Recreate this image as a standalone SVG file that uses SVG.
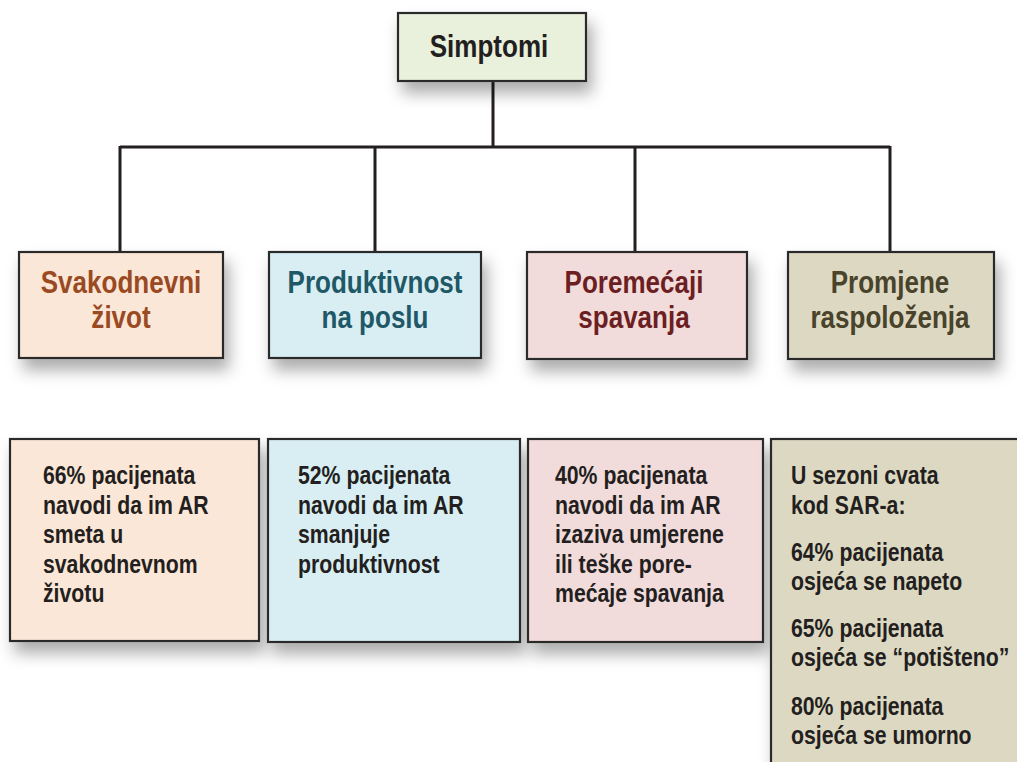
<svg xmlns="http://www.w3.org/2000/svg" width="1017" height="762" viewBox="0 0 1017 762">
<defs>
<filter id="sh" x="-20%" y="-20%" width="150%" height="160%">
<feDropShadow dx="5" dy="11" stdDeviation="8" flood-color="#000" flood-opacity="0.33"/>
</filter>
<style>
.box{stroke:#2b2b2b;stroke-width:2.2;filter:url(#sh)}
.hd{font-family:"Liberation Sans",Arial,sans-serif;font-weight:bold;font-size:31px;text-anchor:middle}
.bd{font-family:"Liberation Sans",Arial,sans-serif;font-weight:bold;font-size:25px;fill:#231f20}
.ln{stroke:#231f20;stroke-width:3;fill:none}
</style>
</defs>
<rect width="1017" height="762" fill="#ffffff"/>
<g id="connectors">
<path class="ln" d="M493 81 V147 M120 147 H890 M120 146 V252 M375 147 V252 M635 147 V252 M890 146 V252"/>
</g>
<g id="simptomi">
<rect class="box" x="398" y="13" width="188" height="68" fill="#e9f0dc"/>
<text class="hd" transform="translate(489 57) scale(0.84 1)" fill="#231f20">Simptomi</text>
</g>
<g id="svakodnevni">
<rect class="box" x="19" y="252" width="204" height="106" fill="#fbe7d7"/>
<text class="hd" transform="translate(121 293) scale(0.84 1)" fill="#9a4a22">Svakodnevni</text>
<text class="hd" transform="translate(121 328) scale(0.84 1)" fill="#9a4a22">život</text>
</g>
<g id="produktivnost">
<rect class="box" x="269" y="252" width="212" height="106" fill="#d9eef3"/>
<text class="hd" transform="translate(375 293) scale(0.84 1)" fill="#1f5866">Produktivnost</text>
<text class="hd" transform="translate(375 328) scale(0.84 1)" fill="#1f5866">na poslu</text>
</g>
<g id="poremecaji">
<rect class="box" x="527" y="252" width="220" height="107" fill="#f2dbdb"/>
<text class="hd" transform="translate(634 293) scale(0.84 1)" fill="#6c1f22">Poremećaji</text>
<text class="hd" transform="translate(634 328) scale(0.84 1)" fill="#6c1f22">spavanja</text>
</g>
<g id="promjene">
<rect class="box" x="788" y="252" width="206" height="107" fill="#ddd8c2"/>
<text class="hd" transform="translate(890 293) scale(0.84 1)" fill="#48432a">Promjene</text>
<text class="hd" transform="translate(890 328) scale(0.84 1)" fill="#48432a">raspoloženja</text>
</g>
<g id="detail1">
<rect class="box" x="10" y="439" width="249" height="202" fill="#fbe7d7"/>
<text class="bd" transform="translate(43 484) scale(0.85 1)">66% pacijenata</text>
<text class="bd" transform="translate(43 513.5) scale(0.85 1)">navodi da im AR</text>
<text class="bd" transform="translate(43 543) scale(0.85 1)">smeta u</text>
<text class="bd" transform="translate(43 572.5) scale(0.85 1)">svakodnevnom</text>
<text class="bd" transform="translate(43 602) scale(0.85 1)">životu</text>
</g>
<g id="detail2">
<rect class="box" x="268" y="439" width="252" height="203" fill="#d9eef3"/>
<text class="bd" transform="translate(298 484) scale(0.85 1)">52% pacijenata</text>
<text class="bd" transform="translate(298 513.5) scale(0.85 1)">navodi da im AR</text>
<text class="bd" transform="translate(298 543) scale(0.85 1)">smanjuje</text>
<text class="bd" transform="translate(298 572.5) scale(0.85 1)">produktivnost</text>
</g>
<g id="detail3">
<rect class="box" x="528" y="439" width="235" height="203" fill="#f2dbdb"/>
<text class="bd" transform="translate(555 484) scale(0.85 1)">40% pacijenata</text>
<text class="bd" transform="translate(555 513.5) scale(0.85 1)">navodi da im AR</text>
<text class="bd" transform="translate(555 543) scale(0.85 1)">izaziva umjerene</text>
<text class="bd" transform="translate(555 572.5) scale(0.85 1)">ili teške pore-</text>
<text class="bd" transform="translate(555 602) scale(0.85 1)">mećaje spavanja</text>
</g>
<g id="detail4">
<rect class="box" x="771" y="439" width="260" height="340" fill="#ddd8c2"/>
<text class="bd" transform="translate(791 484) scale(0.85 1)">U sezoni cvata</text>
<text class="bd" transform="translate(791 513.5) scale(0.85 1)">kod SAR-a:</text>
<text class="bd" transform="translate(791 560.5) scale(0.85 1)">64% pacijenata</text>
<text class="bd" transform="translate(791 590) scale(0.85 1)">osjeća se napeto</text>
<text class="bd" transform="translate(791 636.5) scale(0.85 1)">65% pacijenata</text>
<text class="bd" transform="translate(791 666) scale(0.85 1)">osjeća se “potišteno”</text>
<text class="bd" transform="translate(791 714.5) scale(0.85 1)">80% pacijenata</text>
<text class="bd" transform="translate(791 743.5) scale(0.85 1)">osjeća se umorno</text>
</g>
</svg>
